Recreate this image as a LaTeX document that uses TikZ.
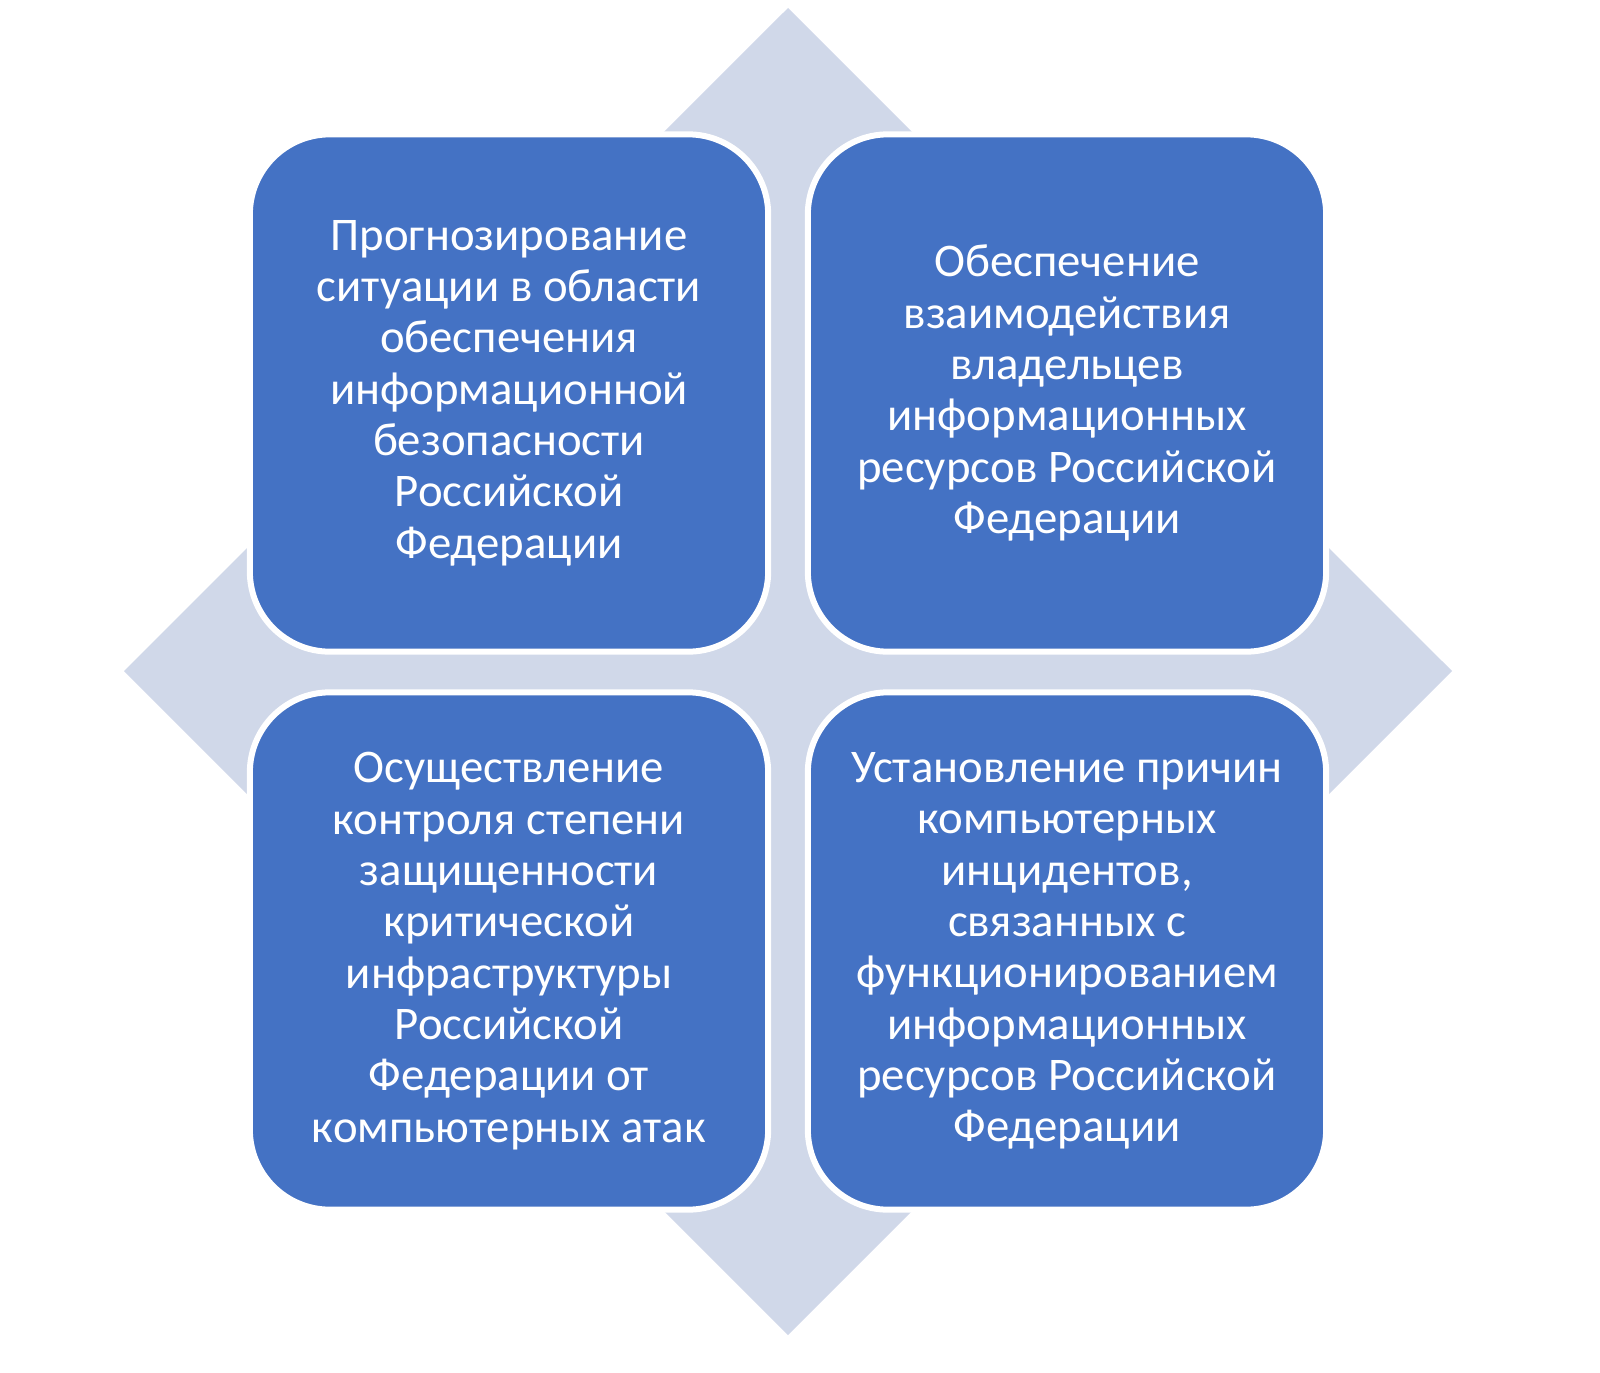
\documentclass[tikz,border=0pt]{standalone}
\usepackage{fontspec}
\setmainfont{Carlito}
\usetikzlibrary{calc}
\definecolor{boxblue}{HTML}{4472C4}
\definecolor{diamondgray}{HTML}{D0D8E9}
\tikzset{
	quad/.style={draw=white, line width=0.6mm, fill=boxblue, rounded corners=0.8cm,
		minimum width=5.18cm, minimum height=5.17cm, text=white, align=center,
		font=\fontsize{13.3}{14.6}\selectfont}
}

\begin{document}
\begin{tikzpicture}[x=0.01cm, y=-0.01cm]
			%%%%% START %%%%%
			
			\useasboundingbox (0, 0) rectangle (1600, 1373);
			
			\coordinate (mid) at (788, 671);
			\fill[diamondgray] ($(mid)+(0,-663)$) -- ($(mid)+(664,0)$) -- ($(mid)+(0,664)$) -- ($(mid)+(-664,0)$) -- cycle;
			
			\node[quad] (forecast) at (509, 393) {Прогнозирование\\ситуации в области\\обеспечения\\информационной\\безопасности\\Российской\\Федерации};
			\node[quad] (interact) at (1067, 393) {Обеспечение\\взаимодействия\\владельцев\\информационных\\ресурсов Российской\\Федерации};
			\node[quad] (control) at (509, 951) {Осуществление\\контроля степени\\защищенности\\критической\\инфраструктуры\\Российской\\Федерации от\\компьютерных атак};
			\node[quad] (causes) at (1067, 951) {Установление причин\\компьютерных\\инцидентов,\\связанных с\\функционированием\\информационных\\ресурсов Российской\\Федерации};
			
			%%%%% END %%%%%
\end{tikzpicture}
\end{document}
